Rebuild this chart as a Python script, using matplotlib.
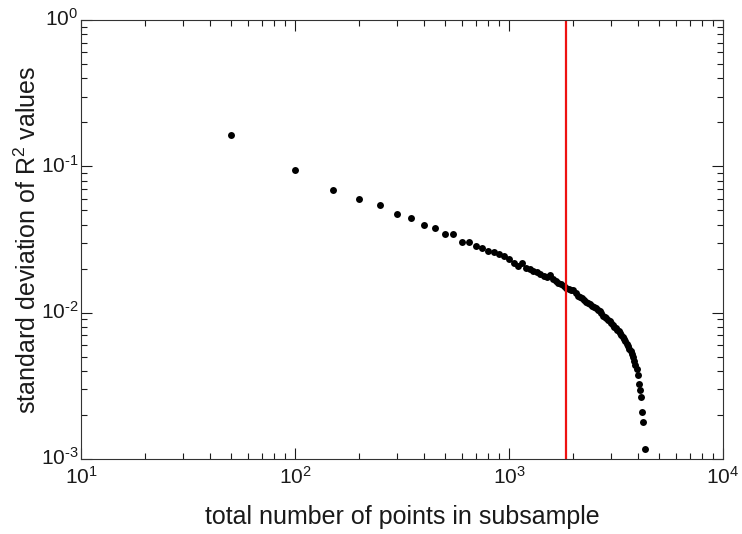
import math
import matplotlib
matplotlib.use("Agg")
import matplotlib.pyplot as plt
import matplotlib.transforms as mtransforms
from matplotlib.ticker import LogLocator, FuncFormatter, NullFormatter

plt.rcParams['font.family'] = ['Liberation Sans', 'DejaVu Sans']
plt.rcParams['mathtext.fontset'] = 'custom'
plt.rcParams['mathtext.rm'] = 'Liberation Sans'
plt.rcParams['mathtext.it'] = 'Liberation Sans'

# subsample sizes and spread of R^2 across repeated draws
n_points = [50 * k for k in range(1, 87)]
r2_std = [
    0.1644, 0.0939, 0.0685, 0.0600, 0.0546, 0.0474, 0.0441, 0.0399, 0.0379, 0.0346,
    0.0346, 0.0304, 0.0306, 0.0284, 0.0278, 0.0264, 0.0260, 0.0252, 0.0244, 0.0231,
    0.0218, 0.0208, 0.0220, 0.0203, 0.0199, 0.0194, 0.0189, 0.0184, 0.0178, 0.0176,
    0.0182, 0.0170, 0.0164, 0.0159, 0.0156, 0.0152, 0.0148, 0.0146, 0.0144, 0.0142,
    0.0136, 0.0131, 0.0129, 0.0126, 0.0123, 0.0119, 0.0116, 0.0114, 0.0111, 0.0109,
    0.0107, 0.0105, 0.0102, 0.00994, 0.00955, 0.00940, 0.00918, 0.00897, 0.00883, 0.00855,
    0.00823, 0.00804, 0.00785, 0.00766, 0.00748, 0.00725, 0.00703, 0.00681, 0.00660, 0.00639,
    0.00615, 0.00591, 0.00568, 0.00546, 0.00525, 0.00497, 0.00467, 0.00438, 0.00412, 0.00375,
    0.00324, 0.00296, 0.00266, 0.00209, 0.00179, 0.00117,
]
cutoff = 1850

fig = plt.figure(figsize=(7.42, 5.34), dpi=100)
ax = fig.add_axes([0.1092, 0.1404, 0.8652, 0.8221])

ax.plot(n_points, r2_std, 'o', color='black', markersize=5, markeredgewidth=0)
ax.axvline(cutoff, color='#ee1111', lw=1.6)

ax.set_xscale('log')
ax.set_yscale('log')
ax.set_xlim(10, 1e4)
ax.set_ylim(1e-3, 1)

def pow_label(v, pos):
    # plain hyphen in the exponent keeps the labels narrow
    e = int(round(math.log10(v)))
    return r'$\mathregular{10^{\text{%d}}}$' % e

for axis in (ax.xaxis, ax.yaxis):
    axis.set_major_locator(LogLocator(base=10))
    axis.set_minor_locator(LogLocator(base=10, subs=range(2, 10)))
    axis.set_major_formatter(FuncFormatter(pow_label))
    axis.set_minor_formatter(NullFormatter())

ax.tick_params(which='both', direction='in', top=True, right=True, labelsize=15, colors='#1a1a1a')
ax.tick_params(which='major', length=8, width=0.8)
ax.tick_params(which='minor', length=4, width=0.8)
ax.tick_params(axis='x', pad=5)
ax.tick_params(axis='y', pad=2)
for s in ax.spines.values():
    s.set_linewidth(0.8)
    s.set_color('#333333')

# lift the y labels a little so the digits sit on the tick
lift = mtransforms.ScaledTranslation(0, 3 / 100, fig.dpi_scale_trans)
for lbl in ax.get_yticklabels():
    lbl.set_transform(lbl.get_transform() + lift)

ax.set_xlabel('total number of points in subsample', fontsize=18, color='#1a1a1a')
ax.set_ylabel(r'standard deviation of R$^{\mathregular{2}}$ values', fontsize=18, color='#1a1a1a')
ax.xaxis.set_label_coords(0.5, -0.104)
ax.yaxis.set_label_coords(-0.062, 0.5)

fig.savefig('out.png', dpi=100)
